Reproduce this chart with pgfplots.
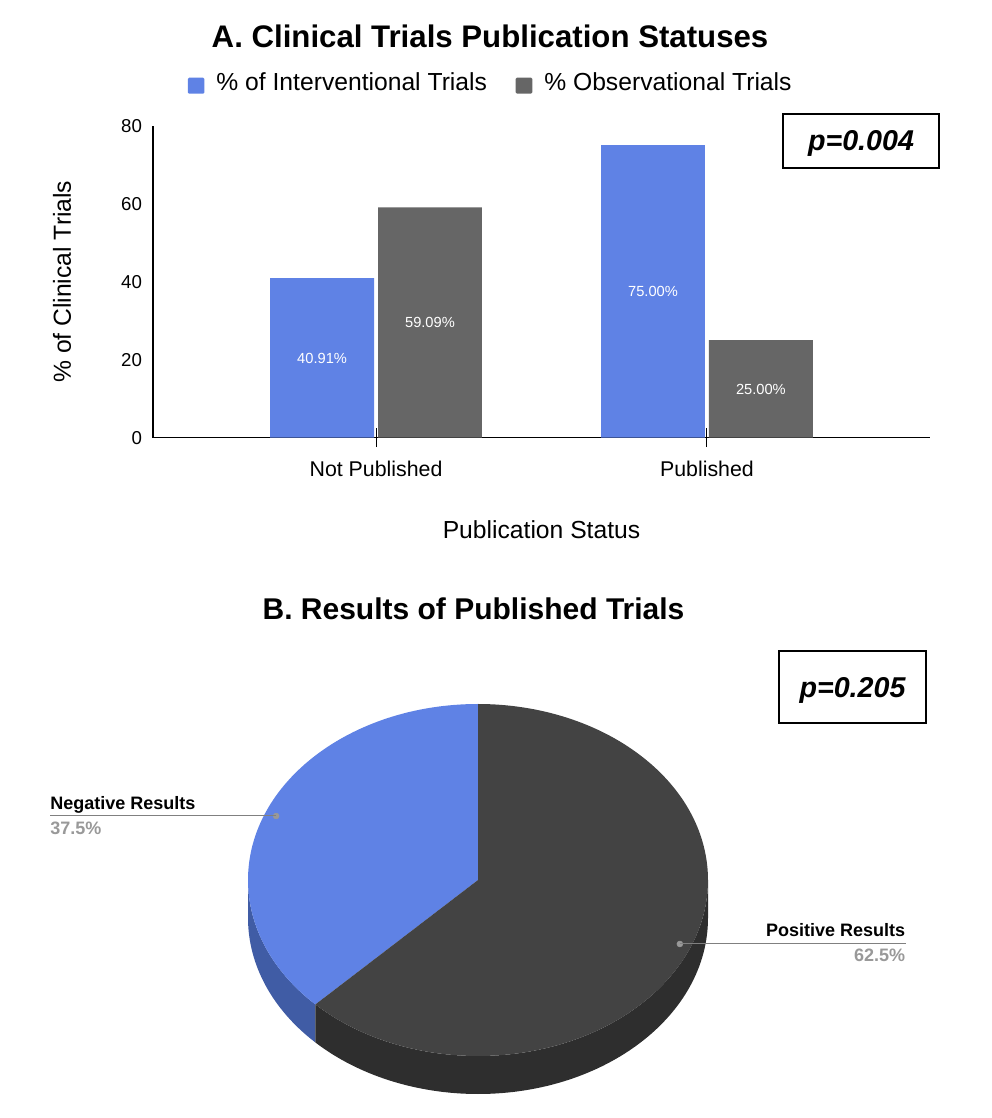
\documentclass[border=0pt]{standalone}
\usepackage{fontspec}
\setmainfont{Liberation Sans}
\usepackage{pgfplots}
\pgfplotsset{compat=1.18}
\usepackage{pgfplotstable}

\definecolor{cblue}{RGB}{95,130,229}
\definecolor{cgray}{RGB}{102,102,102}
\definecolor{piedark}{RGB}{67,67,67}
\definecolor{piedarkside}{RGB}{46,46,46}
\definecolor{pieblueside}{RGB}{64,92,165}
\definecolor{lblgray}{RGB}{153,153,153}
\definecolor{linegray}{RGB}{128,128,128}

% publication status, % of trials
\pgfplotstableread{
x int obs
0 40.91 59.09
1 75.00 25.00
}\bardata

% results of published trials
\pgfplotstableread{
label share
Negative 37.5
Positive 62.5
}\piedata
\pgfplotstablecreatecol[expr accum={\pgfmathaccuma+\thisrow{share}}{0}]{cum}{\piedata}
\pgfplotstablegetelem{0}{share}\of\piedata
\pgfmathsetmacro\splitang{90+3.6*\pgfplotsretval}

\begin{document}
\begin{tikzpicture}

% ---------- A: bars ----------
\begin{axis}[
    at={(114.75pt,510.2pt)}, anchor=south west,
    scale only axis, width=582.75pt, height=234pt,
    xmin=-0.674, xmax=1.674, ymin=0, ymax=80,
    axis x line=bottom, axis y line=left,
    axis line style={-, line width=1.1pt},
    xtick={0,1}, xticklabels={Not Published, Published},
    ytick={0,20,40,60,80},
    ytick style={draw=none},
    xtick style={black, line width=0.8pt},
    tick align=center, major tick length=14pt,
    /pgf/number format/assume math mode=true,
    yticklabel style={font=\fontsize{14}{16}\selectfont, xshift=2.25pt},
    xticklabel style={font=\fontsize{16}{18}\selectfont, yshift=-7pt},
    xlabel={Publication Status},
    ylabel={\% of Clinical Trials},
    xlabel style={at={(axis description cs:0.5,-0.296)}, anchor=center, font=\fontsize{18.5}{20}\selectfont},
    ylabel style={at={(axis description cs:-0.117,0.5)}, anchor=center, font=\fontsize{18.5}{20}\selectfont},
    legend style={at={(axis description cs:0.435,1.137)}, anchor=center, draw=none,
        font=\fontsize{18.5}{20}\selectfont, legend columns=2,
        /tikz/every even column/.append style={column sep=19.5pt}},
]
\addplot[ybar, bar width=0.314, bar shift=-0.163, fill=cblue, draw=none,
    legend image code/.code={\fill[cblue, rounded corners=1pt] (0pt,-8pt) rectangle (12.5pt,4pt);
        \path (19.5pt,0pt);}]
    table[x=x, y=int]{\bardata};
\addlegendentry{\% of Interventional Trials}
\addplot[ybar, bar width=0.314, bar shift=0.163, fill=cgray, draw=none,
    legend image code/.code={\fill[cgray, rounded corners=1pt] (0pt,-8pt) rectangle (12.5pt,4pt);
        \path (19.5pt,0pt);}]
    table[x=x, y=obs]{\bardata};
\addlegendentry{\% Observational Trials}
% value labels in the middle of each bar
\addplot[draw=none, mark=none, forget plot,
    point meta=explicit, nodes near coords={\pgfmathprintnumber[fixed,fixed zerofill,precision=2]{\pgfplotspointmeta}\%},
    every node near coord/.append style={anchor=center, text=white, font=\fontsize{11}{13}\selectfont}]
    table[x expr=\thisrow{x}-0.163, y expr=\thisrow{int}/2, meta=int]{\bardata};
\addplot[draw=none, mark=none, forget plot,
    point meta=explicit, nodes near coords={\pgfmathprintnumber[fixed,fixed zerofill,precision=2]{\pgfplotspointmeta}\%},
    every node near coord/.append style={anchor=center, text=white, font=\fontsize{11}{13}\selectfont}]
    table[x expr=\thisrow{x}+0.163, y expr=\thisrow{obs}/2, meta=obs]{\bardata};
\end{axis}

% ---------- B: 3d pie ----------
\begin{axis}[
    at={(358.5pt,178.5pt)}, anchor=center,
    scale only axis, width=345pt, height=264pt,
    xmin=-1, xmax=1, ymin=-1, ymax=1,
    hide axis, clip=false,
]
% rim
\fill[pieblueside] (axis cs:0,0) ++(180:172.5pt and 132pt)
    arc[start angle=180, end angle=\splitang, x radius=172.5pt, y radius=132pt]
    -- ++(0pt,-28.5pt)
    arc[start angle=\splitang, end angle=180, x radius=172.5pt, y radius=132pt] -- cycle;
\fill[piedarkside] (axis cs:0,0) ++(\splitang:172.5pt and 132pt)
    arc[start angle=\splitang, end angle=360, x radius=172.5pt, y radius=132pt]
    -- ++(0pt,-28.5pt)
    arc[start angle=360, end angle=\splitang, x radius=172.5pt, y radius=132pt] -- cycle;
% top face
\fill[cblue] (axis cs:0,0) -- ++(90:172.5pt and 132pt)
    arc[start angle=90, end angle=\splitang, x radius=172.5pt, y radius=132pt] -- cycle;
\fill[piedark] (axis cs:0,0) -- ++(\splitang:172.5pt and 132pt)
    arc[start angle=\splitang, end angle=450, x radius=172.5pt, y radius=132pt] -- cycle;
% label anchor dots at the middle of each slice
\addplot[only marks, mark=*, mark size=2.2pt, mark options={fill=lblgray, draw=lblgray}]
    table[x expr={0.95*cos(90+3.6*(\thisrow{cum}-\thisrow{share}/2))},
          y expr={0.95*sin(90+3.6*(\thisrow{cum}-\thisrow{share}/2))}]{\piedata};
\end{axis}

% ---------- text, in pixel units of the reference ----------
\begin{scope}[x=0.75pt, y=-0.75pt, yshift=838.5pt]
\node[anchor=base, font=\fontsize{23.4}{26}\selectfont\bfseries] at (490,48) {A. Clinical Trials Publication Statuses};
\node[anchor=base, font=\fontsize{22.5}{26}\selectfont\bfseries] at (473.5,620) {B. Results of Published Trials};

\node[draw, line width=1.1pt, minimum width=117pt, minimum height=40.5pt, text depth=0pt,
      font=\fontsize{21.5}{24}\selectfont\bfseries\itshape] at (861,141) {p=0.004};
\node[draw, line width=1.1pt, minimum width=110.25pt, minimum height=54pt, text depth=0pt,
      font=\fontsize{21.5}{24}\selectfont\bfseries\itshape] at (852.5,687) {p=0.205};

\draw[linegray, line width=1.1pt] (50,815.7) -- (276,815.7);
\node[anchor=base west, inner sep=0pt, font=\fontsize{13.5}{15}\selectfont\bfseries] at (50,810) {Negative Results};
\node[anchor=base west, inner sep=0pt, text=lblgray, font=\fontsize{13.5}{15}\selectfont\bfseries] at (50,835) {37.5\%};

\draw[linegray, line width=1.1pt] (680,943.3) -- (906,943.3);
\node[anchor=base east, inner sep=0pt, font=\fontsize{13.5}{15}\selectfont\bfseries] at (905.5,937) {Positive Results};
\node[anchor=base east, inner sep=0pt, text=lblgray, font=\fontsize{13.5}{15}\selectfont\bfseries] at (905.5,962) {62.5\%};
\end{scope}

\pgfresetboundingbox
\path[use as bounding box] (0,0) rectangle (744pt,838.5pt);
\end{tikzpicture}
\end{document}
